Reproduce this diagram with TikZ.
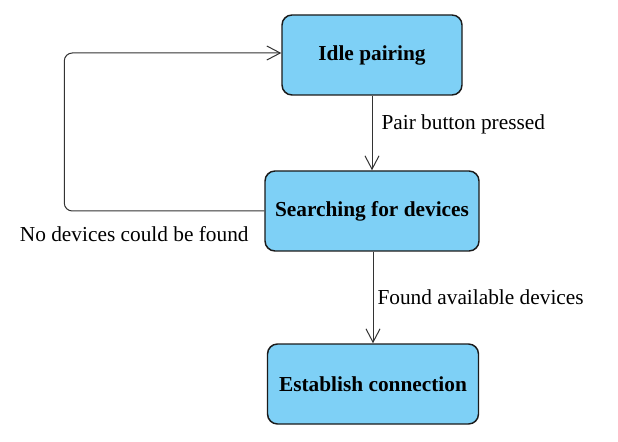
\documentclass[tikz,border=0pt]{standalone}
\usepackage{fontspec}
\setmainfont{Liberation Serif}
\usetikzlibrary{arrows.meta,positioning}
\definecolor{statefill}{RGB}{126,208,246}
\definecolor{stateline}{RGB}{26,26,26}
\begin{document}
\begin{tikzpicture}[x=0.75pt,y=-0.75pt,
  state/.style={draw=stateline,line width=1.1pt,fill=statefill,rounded corners=7.5pt,
    minimum height=60pt,inner sep=0pt,font=\fontsize{16}{19}\selectfont\bfseries},
  trans/.style={draw=black!80,line width=0.75pt,-{Straight Barb[length=10pt,width=10.5pt]}},
  lbl/.style={inner sep=0pt,font=\fontsize{16}{19}\selectfont}]
\useasboundingbox (0,0) rectangle (618,442);
\node[state,minimum width=135pt] (idle) at (372,55) {Idle pairing};
\node[state,minimum width=160.5pt] (search) at (372,211) {Searching for devices};
\node[state,minimum width=158.25pt] (conn) at (373,384) {Establish connection};
\draw[trans] (idle) -- node[lbl,pos=0.39,right=6.75pt] {Pair button pressed} (search);
\draw[trans] (search.south -| conn) -- node[lbl,midway,right=3pt] {Found available devices} (conn);
\draw[trans,rounded corners=6pt] (search.west) -- node[lbl,pos=0.65,below=11.25pt] {No devices could be found} ++(-200,0) |- ([yshift=1.5pt]idle.west);
\end{tikzpicture}
\end{document}
